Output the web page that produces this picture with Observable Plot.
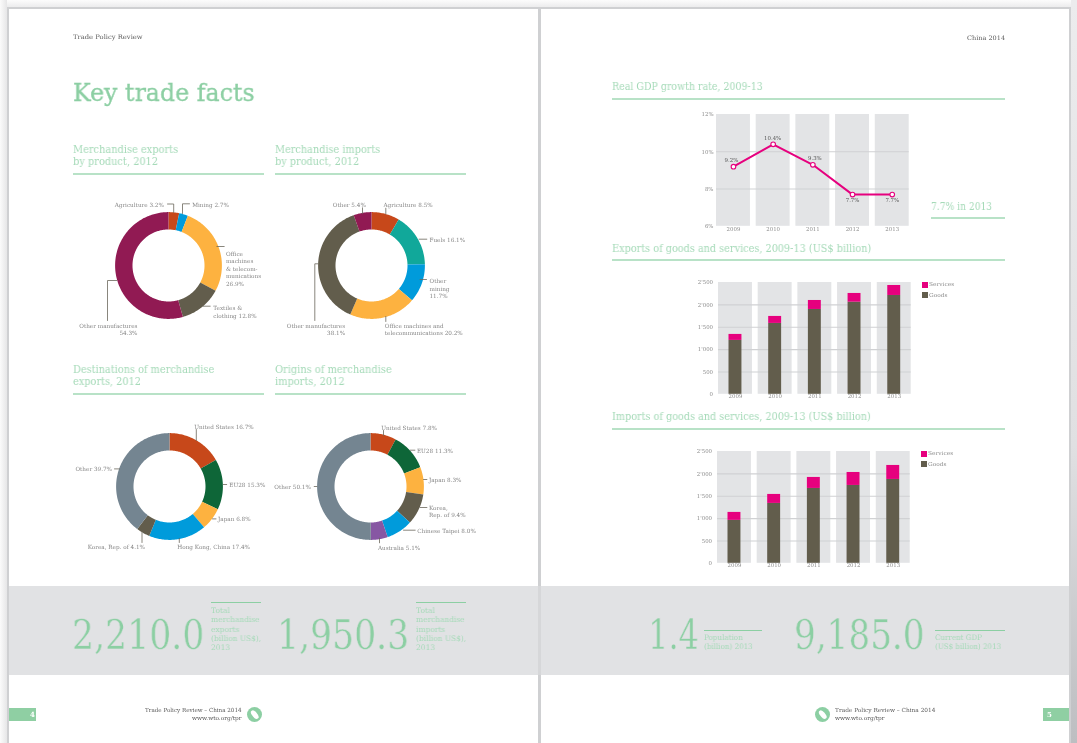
<!DOCTYPE html>
<html>
<head>
<meta charset="utf-8">
<script src="https://cdn.jsdelivr.net/npm/d3@7"></script>
<script src="https://cdn.jsdelivr.net/npm/@observablehq/plot@0.6"></script>
<style>
html,body{margin:0;padding:0;background:#fff}
#page{position:relative;width:1077px;height:743px;overflow:hidden;background:#fff;font-family:"DejaVu Serif",serif}
.t{position:absolute;white-space:pre;font-family:"DejaVu Serif",serif;will-change:transform}
.b{position:absolute}
svg{will-change:transform}
</style>
</head>
<body>
<div id="page"></div>
<script>
// ---- chart data ----
const years = ["2009","2010","2011","2012","2013"];
const gdpGrowth = [9.2,10.4,9.3,7.7,7.7];
const exportGoods = [1205,1585,1897,2060,2210];
const exportServices = [134,156,201,195,223];
const importGoods = [960,1339,1674,1741,1875];
const importServices = [178,201,246,290,313];

const expProdLabels = ["Agriculture 3.2%","Mining 2.7%","Office\nmachines\n& telecom-\nmunications\n26.9%","Textiles &\nclothing 12.8%","Other manufactures\n54.3%"];
const expProdValues = [3.2,2.7,26.9,12.8,54.3];
const impProdLabels = ["Agriculture 8.5%","Fuels 16.1%","Other\nmining\n11.7%","Office machines and\ntelecommunications 20.2%","Other manufactures\n38.1%","Other 5.4%"];
const impProdValues = [8.5,16.1,11.7,20.2,38.1,5.4];
const destLabels = ["United States 16.7%","EU28 15.3%","Japan 6.8%","Hong Kong, China 17.4%","Korea, Rep. of 4.1%","Other 39.7%"];
const destValues = [16.7,15.3,6.8,17.4,4.1,39.7];
const origLabels = ["United States 7.8%","EU28 11.3%","Japan 8.3%","Korea,\nRep. of 9.4%","Chinese Taipei 8.0%","Australia 5.1%","Other 50.1%"];
const origValues = [7.8,11.3,8.3,9.4,8.0,5.1,50.1];

// ---- palette ----
const RED="#c7481a",BLUE="#009bdb",YEL="#fdb240",OLV="#625d4c",MAR="#911a53",TEAL="#11a89a",GRN="#0e6638",SLT="#748591",PUR="#8757a3";
const PINK="#e6007e",GREEN="#8ccfa3",GREEN2="#a5dab8",RULE="#b8e2c7",COL="#e3e4e6",GRID="#d0d1d3",BAND="#e1e2e4",EDGE="#cfd0d2",INK="#5a5a5a";
const expProdColors=[RED,BLUE,YEL,OLV,MAR], impProdColors=[RED,TEAL,BLUE,YEL,OLV,MAR],
      destColors=[RED,GRN,YEL,BLUE,OLV,SLT], origColors=[RED,GRN,YEL,OLV,BLUE,PUR,SLT];

// ---- callout layout, pixels from each ring's centre: label x, label y, anchor, leader ----
const expProdCallouts=[
 [-4.6,-61.3,"end",[[-1,-61.5],[5.2,-61.5],[5.2,-53]]],
 [23.7,-61.3,"start",[[21,-61.7],[14,-61.7],[14,-52]]],
 [57.4,3,"start",[[48.4,-19],[55.7,-19]]],
 [44.7,46,"start",[[34.5,40.7],[41.7,40.7]]],
 [-31,63.5,"end",[[-51.7,15],[-61,15],[-61,55]]]];
const impProdCallouts=[
 [12,-61.3,"start",[[14.3,-57.3],[14.3,-51.5]]],
 [58,-26.3,"start",[[47.6,-26.3],[55.3,-26.3]]],
 [58,23,"start",[[48.6,14],[55,14]]],
 [13.3,63.5,"start",[[14.3,51],[14.3,56]]],
 [-26.4,63.5,"end",[[-53.4,-1.7],[-56.7,-1.7],[-56.7,55]]],
 [-5.7,-61.3,"end",[[-9,-57.7],[-9,-52]]]];
const destCallouts=[
 [24.8,-59.6,"start",[[26.8,-57],[26.8,-46]]],
 [59.8,-2,"start",[[53.8,-2],[57.2,-2]]],
 [48.5,32.4,"start",[[43,32.4],[46.5,32.4]]],
 [7.8,60.4,"start",[[9.8,52],[9.8,56]]],
 [-24.5,60.4,"end",[[-27.5,45.4],[-27.5,56]]],
 [-57.5,-17.6,"end",[[-55,-17.6],[-50,-17.6]]]];
const origCallouts=[
 [10.7,-59.3,"start",[[13,-56],[13,-51]]],
 [46.4,-36.3,"start",[[39.7,-36.3],[44.4,-36.3]]],
 [58.4,-7,"start",[[53,-7],[56.4,-7]]],
 [58.4,24.8,"start",[[49.7,21],[56.4,21]]],
 [46.7,43.7,"start",[[33,43.7],[44.7,43.7]]],
 [7.4,60.7,"start",[[9,51.7],[9,56.3]]],
 [-59.6,0,"end",[[-56.3,0],[-53.6,0]]]];

const page=document.getElementById("page");
const fmt=d3.formatLocale({thousands:"'",grouping:[3],decimal:"."}).format(",");

function box(x,y,w,h,color,extra){
  const e=document.createElement("div");e.className="b";
  e.style.cssText=`left:${x}px;top:${y}px;width:${w}px;height:${h}px;background:${color};${extra||""}`;
  page.appendChild(e);return e;
}
// text: x is the anchor, cy the vertical middle of the block, w the width the block is fitted to
function T(str,x,cy,size,color,w,o={}){
  const e=document.createElement("div");e.className="t";e.textContent=str;
  const lh=o.lh||size*1.2;
  e.style.fontSize=size+"px";e.style.lineHeight=lh+"px";e.style.color=color;
  if(o.weight)e.style.fontWeight=o.weight;
  if(o.thin)e.style.webkitTextStroke=o.thin;
  page.appendChild(e);
  const natural=e.offsetWidth,h=e.offsetHeight;
  e.style.top=(cy-h/2)+"px";
  const s=w?w/natural:1;
  if(o.right){e.style.right=(1077-x)+"px";e.style.transformOrigin="right center";}
  else{e.style.left=x+"px";e.style.transformOrigin="left center";}
  e.style.transform=`scaleX(${s})`;
}

// ---- page furniture ----
box(0,0,1077,7,"linear-gradient(#fcfcfc,#ececed)");
box(0,0,7,743,"linear-gradient(90deg,#fbfbfb,#e6e6e7)");
box(1071,0,6,743,"linear-gradient(#ececed,#e0e0e2 60%,#bdbec1)");
box(7,6.5,1064,736.5,EDGE);
box(9,9,529,734,"#fff");
box(541,9,528,734,"#fff");
box(9,586,529,89,BAND);
box(538,586,3,89,"#d6d7d9");
box(541,586,528,89,BAND);

T("Trade Policy Review",73,36.2,6.2,INK,70);
T("China 2014",1005,37,6.2,INK,38,{right:true});
T("Key trade facts",73,93,25,GREEN,182,{thin:"0.35px "+GREEN});

const sections=[
 ["Merchandise exports\nby product, 2012",73,156.4,105,73,173,190.7],
 ["Merchandise imports\nby product, 2012",275.3,156.4,105,275.3,173,190.7],
 ["Destinations of merchandise\nexports, 2012",73,376.4,141.7,73,393,190.7],
 ["Origins of merchandise\nimports, 2012",275.3,376.4,116.7,275.3,393,190.7],
 ["Real GDP growth rate, 2009-13",612,87.4,151,612,98,393],
 ["Exports of goods and services, 2009-13 (US$ billion)",612,249.4,259,612,259,393],
 ["Imports of goods and services, 2009-13 (US$ billion)",612,417.4,259,612,428,393],
 ["7.7% in 2013",931,206.8,61,931,217,74]];
for(const [s,x,cy,w,rx,ry,rw] of sections){
  T(s,x,cy,10.2,GREEN2,w,{lh:12});
  box(rx,ry,rw,2,RULE);
}

// big figures and their captions
const figures=[
 ["2,210.0",72,204],["1,950.3",277.2,409],["1.4",648,699],["9,185.0",794.2,924.4]];
for(const [s,x0,x1] of figures)T(s,x0,635.3,41.5,GREEN,x1-x0,{thin:"0.4px "+BAND});
const captions=[
 ["Total\nmerchandise\nexports\n(billion US$),\n2013",211,628.5,50,602,50],
 ["Total\nmerchandise\nimports\n(billion US$),\n2013",416,628.5,50,602,50],
 ["Population\n(billion) 2013",704,642.5,49,630,57.5],
 ["Current GDP\n(US$ billion) 2013",935.4,642.5,66.5,630,69.6]];
for(const [s,x,cy,w,ry,rw] of captions){
  T(s,x,cy,7.6,GREEN2,w,{lh:9.3});
  box(x,ry,rw,1,GREEN);
}

// footers
function icon(cx,cy){
  box(cx-7.5,cy-7.5,15,15,GREEN,"border-radius:50%");
  box(cx-5,cy-2.2,9.5,4.6,"#fff",`border-radius:50%;transform:rotate(50deg);`);
}
box(9,708,27,13,"#8fcfa3");
T("4",30,714.6,7,"#fff",0,{weight:"bold"});
T("Trade Policy Review – China 2014",242,710.8,5.6,INK,97,{right:true});
T("www.wto.org/tpr",242,718.8,5.6,INK,50,{right:true});
icon(254.8,714.3);
box(1043,708,26,13,"#8fcfa3");
T("5",1047.4,714.6,7,"#fff",0,{weight:"bold"});
T("Trade Policy Review – China 2014",835.2,710.8,5.6,INK,101);
T("www.wto.org/tpr",835.2,718.8,5.6,INK,50);
icon(822.8,714.3);

// ---- rings ----
const R=53.4, r0=36, HW=115, HH=82;
function donut(labels,values,colors,callouts,cx,cy){
  const arcs=d3.pie().sort(null)(values);
  const rim=[];
  arcs.forEach((a,i)=>{
    const n=Math.max(2,Math.ceil((a.endAngle-a.startAngle)/0.02));
    const ang=d3.range(n+1).map(k=>a.startAngle+(a.endAngle-a.startAngle)*k/n);
    for(const t of ang)rim.push({k:labels[i],x:R*Math.sin(t),y:-R*Math.cos(t)});
    for(const t of ang.slice().reverse())rim.push({k:labels[i],x:r0*Math.sin(t),y:-r0*Math.cos(t)});
  });
  const leaders=callouts.flatMap((c,i)=>c[3].map(p=>({k:i,x:p[0],y:p[1]})));
  const notes=callouts.map((c,i)=>({s:labels[i],x:c[0],y:c[1],a:c[2]}));
  const textMark=a=>Plot.text(notes.filter(d=>d.a===a),{x:"x",y:"y",text:"s",textAnchor:a,lineAnchor:"middle",lineHeight:1.31,fill:"#868686",fontSize:5.7});
  const svg=Plot.plot({
    width:HW*2,height:HH*2,margin:0,
    x:{domain:[-HW,HW],range:[0,HW*2],axis:null},
    y:{domain:[-HH,HH],range:[0,HH*2],axis:null},
    color:{domain:labels,range:colors},
    style:{position:"absolute",left:(cx-HW)+"px",top:(cy-HH)+"px",maxWidth:"none",background:"transparent",fontFamily:"DejaVu Serif",overflow:"visible"},
    marks:[
      Plot.line(rim,{x:"x",y:"y",z:"k",fill:"k",stroke:null,curve:"linear-closed"}),
      Plot.line(leaders,{x:"x",y:"y",z:"k",stroke:"#6b675c",strokeWidth:0.8}),
      textMark("start"),textMark("end")
    ]
  });
  page.appendChild(svg);
}
donut(expProdLabels,expProdValues,expProdColors,expProdCallouts,168.3,265);
donut(impProdLabels,impProdValues,impProdColors,impProdCallouts,370.7,265);
donut(destLabels,destValues,destColors,destCallouts,168.5,486.3);
donut(origLabels,origValues,origColors,origCallouts,370.3,486);

// ---- right page charts ----
const base=(left,top)=>({
  width:230,height:135,marginLeft:28,marginRight:9.3,marginTop:10,marginBottom:13.2,
  x:{type:"band",domain:years,paddingInner:0.145,paddingOuter:0,round:false,axis:null},
  style:{position:"absolute",left:left+"px",top:top+"px",maxWidth:"none",background:"transparent",fontFamily:"DejaVu Serif",overflow:"visible"}
});
const axisStyle={tickSize:0,fill:"#8c8c8c",fontSize:5.4,label:null};

function gdpChart(left,top){
  const rows=years.map((y,i)=>({y,v:gdpGrowth[i]}));
  const pct=d=>d.v.toFixed(1)+"%";
  const note=(test,dx,dy)=>Plot.text(rows.filter(test),{x:"y",y:"v",text:pct,dx,dy,fill:"#555",fontSize:5.4});
  page.appendChild(Plot.plot({...base(left,top),
    y:{domain:[6,12],axis:null},
    marks:[
      Plot.barY(years,{x:d=>d,y1:6,y2:12,fill:COL}),
      Plot.ruleY([8,10],{stroke:GRID,strokeWidth:1.1}),
      Plot.axisY({ticks:[6,8,10,12],tickFormat:d=>d+"%",tickPadding:3,...axisStyle}),
      Plot.axisX({tickPadding:1,...axisStyle}),
      Plot.line(rows,{x:"y",y:"v",stroke:PINK,strokeWidth:2}),
      Plot.dot(rows,{x:"y",y:"v",r:2.3,fill:"#fff",stroke:PINK,strokeWidth:1.1}),
      note(d=>d.y==="2009",-2,-6.5),
      note(d=>d.y==="2010",-0.5,-6.5),
      note(d=>d.y==="2011",2,-6.5),
      note(d=>d.v<8,0,6)
    ]}));
}
function stackChart(goods,services,left,top){
  const rows=years.flatMap((y,i)=>[{y,kind:"Goods",v:goods[i]},{y,kind:"Services",v:services[i]}]);
  page.appendChild(Plot.plot({...base(left,top),
    y:{domain:[0,2500],axis:null},
    color:{domain:["Goods","Services"],range:[OLV,PINK]},
    marks:[
      Plot.barY(years,{x:d=>d,y1:0,y2:2500,fill:COL}),
      Plot.ruleY([500,1000,1500,2000],{stroke:GRID,strokeWidth:1.1}),
      Plot.axisY({ticks:[0,500,1000,1500,2000,2500],tickFormat:fmt,tickPadding:5.5,...axisStyle}),
      Plot.axisX({tickPadding:0,...axisStyle}),
      Plot.barY(rows,{x:"y",y:"v",fill:"kind",order:["Goods","Services"],insetLeft:10.5,insetRight:10.5})
    ]}));
}
gdpChart(688.3,104);
stackChart(exportGoods,exportServices,690,272);
stackChart(importGoods,importServices,689,441);

// legends
const legends=[[922,282],[921,451]];
for(const [lx,ly] of legends){
  box(lx,ly,6,6,PINK);
  box(lx,ly+10,6,6,OLV);
  T("Services",lx+7,ly+2.3,5.4,"#8c8c8c",25);
  T("Goods",lx+7,ly+12.6,5.4,"#8c8c8c",18.5);
}
</script>
</body>
</html>
